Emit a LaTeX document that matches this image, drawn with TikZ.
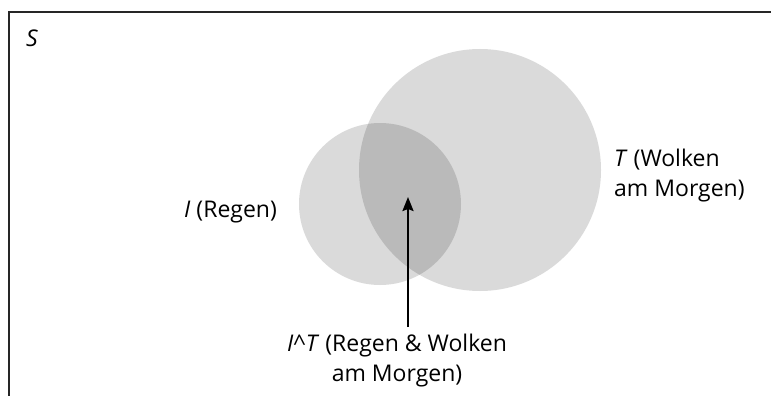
\documentclass[tikz,border=0pt]{standalone}
\usepackage{fontspec}
\setmainfont{Open Sans}
\usetikzlibrary{arrows.meta}

\tikzset{
  menge/.style={fill=black, fill opacity=.145, draw=none},
  lbl/.style={font=\fontsize{23}{30}\selectfont, inner sep=0pt},
  arr/.style={line width=2.2pt, -{Stealth[length=14pt,width=11pt,inset=2pt]}}
}

\begin{document}
\begin{tikzpicture}[x=1pt,y=-1pt]
			\useasboundingbox (0,0) rectangle (771,396);
			% Rahmen (unten und rechts abgeschnitten)
			\draw[line width=2pt, black!85] (9,396) -- (9,12) -- (771,12);
			\node[lbl, anchor=base west] (s) at (26,47) {\textit{S}};
			% die beiden Mengen
			\fill[menge] (380,204) circle (81);
			\fill[menge] (480,170) circle (121);
			\node[lbl, anchor=west] (i) at (184,212) {\textit{I} (Regen)};
			\node[lbl, anchor=north west, align=left] (t) at (614,149) {\textit{T} (Wolken\\am Morgen)};
			\node[lbl, anchor=north, align=center] (it) at (397,334) {\textit{I}\textasciicircum\textit{T} (Regen \& Wolken\\am Morgen)};
			\coordinate (tip) at (408,197);
			\draw[arr] ([yshift=7pt]it.north -| tip) -- (tip);
\end{tikzpicture}
\end{document}
